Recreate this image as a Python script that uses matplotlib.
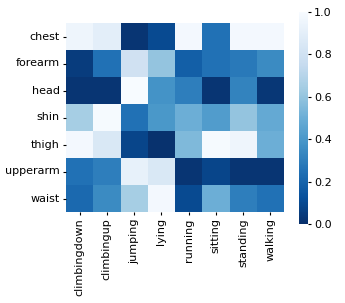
import matplotlib
matplotlib.use("Agg")
import matplotlib.pyplot as plt
import numpy as np
import seaborn as sns

rows = ["chest", "forearm", "head", "shin", "thigh", "upperarm", "waist"]
cols = ["climbingdown", "climbingup", "jumping", "lying", "running", "sitting", "standing", "walking"]
values = [
    [0.95, 0.90, 0.02, 0.10, 0.98, 0.25, 0.98, 0.98],
    [0.05, 0.25, 0.80, 0.60, 0.18, 0.25, 0.28, 0.35],
    [0.02, 0.02, 1.00, 0.38, 0.30, 0.02, 0.32, 0.03],
    [0.65, 0.99, 0.25, 0.40, 0.50, 0.42, 0.60, 0.48],
    [0.98, 0.85, 0.08, 0.01, 0.55, 0.99, 0.95, 0.50],
    [0.25, 0.30, 0.92, 0.85, 0.02, 0.08, 0.02, 0.02],
    [0.22, 0.35, 0.65, 0.98, 0.10, 0.50, 0.30, 0.25],
]

fig = plt.figure(figsize=(3.45, 3.03), dpi=100)
ax = fig.add_axes([66/345, 1 - 212/303, 218/345, 189/303])
cax = fig.add_axes([299/345, 1 - 224/303, 9/345, 212/303])
sns.heatmap(np.array(values), ax=ax, cbar_ax=cax, cmap="Blues_r", vmin=0, vmax=1,
            xticklabels=cols, yticklabels=rows)
ax.tick_params(axis="x", labelsize=8, rotation=90, length=2.5, pad=2)
ax.tick_params(axis="y", labelsize=8, rotation=0, length=2.5, pad=2)
cax.tick_params(labelsize=8, length=2.5, pad=2)
fig.savefig("out.png", dpi=100)
